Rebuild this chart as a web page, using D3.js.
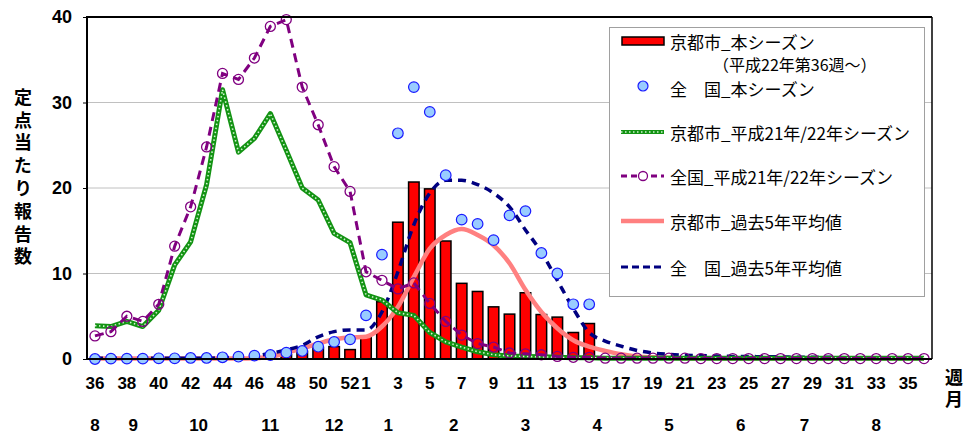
<!DOCTYPE html>
<html>
<head>
<meta charset="utf-8">
<script src="https://cdn.jsdelivr.net/npm/d3@7"></script>
<style>
  body { margin: 0; background: #fff; }
  #chart text { font-family: "Liberation Sans", Arial, sans-serif; }
</style>
</head>
<body>
<div id="chart"></div>
<script>
"use strict";

// == DATA ==
var weekCats = ["36","37","38","39","40","41","42","43","44","45","46","47","48","49","50","51","52",
  "1","2","3","4","5","6","7","8","9","10","11","12","13","14","15","16","17","18","19","20",
  "21","22","23","24","25","26","27","28","29","30","31","32","33","34","35",""];
var weekTickLabels = ["36","38","40","42","44","46","48","50","52","1","3","5","7","9","11","13",
  "15","17","19","21","23","25","27","29","31","33","35"];
var monthLabels = ["8","9","10","11","12","1","2","3","4","5","6","7","8"];
var monthPos = [0, 2.4, 6.5, 11, 15, 18.4, 22.5, 27, 31.5, 36, 40.5, 44.5, 49];
var yTicks = [0, 10, 20, 30, 40];

// 京都市_本シーズン (bars)
var kyotoNow = [0,0,0,0,0,0,0,0,0,0, 0.05,0.2,0.5,0.9,1.35,1.45,1.1,2.6,6.7,16.0,
  20.7,19.9,13.8,8.85,7.9,6.1,5.25,7.75,5.2,4.9, 3.1,4.15];
// 全国_本シーズン (circles)
var zenkokuNow = [0.0,0.04,0.04,0.04,0.08,0.08,0.12,0.12,0.2,0.27, 0.39,0.47,0.74,0.94,1.44,2.0,2.3,5.1,12.2,26.4,
  31.8,28.9,21.5,16.3,15.8,13.9,16.8,17.3,12.4,10.0, 6.4,6.4];
// 京都市_平成21年/22年シーズン
var kyotoPrev = [3.9,3.8,4.4,3.8,5.7,11.0,13.7,20.4,31.5,24.2,
  25.8,28.7,24.4,20.0,18.6,14.7,13.6,7.5,6.9,5.4,
  5.1,3.1,2.0,1.4,0.85,0.5,0.35,0.3,0.25,0.2,
  0.15,0.15,0.1,0.1,0.1,0.1,0.1,0.1,0.1,0.1,
  0.1,0.1,0.1,0.1,0.1,0.1,0.1,0.1,0.1,0.1, 0.1,0.1,0.1];
// 全国_平成21年/22年シーズン
var zenkokuPrev = [2.7,3.2,5.0,4.4,6.4,13.2,17.8,24.8,33.4,32.7,
  35.2,38.9,39.7,31.8,27.4,22.5,19.6,10.2,9.2,8.2,
  8.9,6.5,4.4,2.8,1.8,1.4,0.7,0.6,0.5,0.3,
  0.2,0.2,0.1,0.1,0.1,0.1,0.1,0.1,0.05,0.05,
  0.05,0.05,0.05,0.05,0.05,0.05,0.05,0.05,0.05,0.05, 0.05,0.05,0.05];
// 京都市_過去5年平均値
var kyotoAvg = [0.05,0.05,0.05,0.05,0.05,0.05,0.05,0.05,0.05,0.05,
  0.1,0.27,0.7,1.25,1.8,2.3,2.5,2.6,3.8,6.1,
  9.6,12.9,14.5,15.2,14.5,13.3,11.2,8.1,5.5,3.6,
  2.2,1.45,0.95,0.55,0.3,0.2,0.15,0.1,0.1,0.1,
  0.1,0.1,0.1,0.1,0.1,0.1,0.1,0.1,0.1,0.1, 0.1,0.1,0.1];
// 全国_過去5年平均値
var zenkokuAvg = [0.1,0.1,0.1,0.1,0.1,0.1,0.1,0.1,0.15,0.2,
  0.35,0.67,1.05,1.6,2.6,3.2,3.4,3.4,5.5,10.2,
  15.7,19.4,20.9,20.9,20.4,19.4,17.8,15.1,12.5,9.2,
  5.9,3.1,2.1,1.5,1.0,0.7,0.55,0.45,0.4,0.35,
  0.3,0.3,0.25,0.25,0.2,0.2,0.2,0.15,0.15,0.15, 0.1,0.1,0.1];

var yLabel = "定点当たり報告数";
var xUnit = "週月";

var legendItems = [
  { type: "bar",    text: "京都市_本シーズン" },
  { type: "dot",    text: "全　国_本シーズン" },
  { type: "green",  text: "京都市_平成21年/22年シーズン" },
  { type: "purple", text: "全国_平成21年/22年シーズン" },
  { type: "pink",   text: "京都市_過去5年平均値" },
  { type: "navy",   text: "全　国_過去5年平均値" }
];

// == BOILERPLATE ==
var W = 973, H = 435;
var pLeft = 87, pRight = 932, pTop = 17, pBottom = 359;

var svg = d3.select("#chart").append("svg")
  .attr("width", W).attr("height", H);

var x = d3.scaleBand().domain(weekCats).range([pLeft, pRight]).padding(0);
var bw = x.bandwidth();
var cx = function (i) { return x(weekCats[i]) + bw / 2; };
var xPos = d3.scaleLinear().domain([0, weekCats.length - 1]).range([cx(0), cx(weekCats.length - 1)]);
var y = d3.scaleLinear().domain([0, 40]).range([pBottom, pTop]);

// gridlines
svg.append("g").selectAll("line")
  .data([10, 20, 30]).enter().append("line")
  .attr("x1", pLeft).attr("x2", pRight)
  .attr("y1", function (d) { return y(d); })
  .attr("y2", function (d) { return y(d); })
  .attr("stroke", "#c0c0c0").attr("stroke-width", 1);

// bars
svg.append("g").selectAll("rect")
  .data(kyotoNow).enter().append("rect")
  .attr("x", function (d, i) { return cx(i) - bw * 0.33; })
  .attr("width", bw * 0.66)
  .attr("y", function (d) { return y(d); })
  .attr("height", function (d) { return y(0) - y(d); })
  .attr("fill", "#ff0000")
  .attr("stroke", "#000").attr("stroke-width", function (d) { return d > 0 ? 1.5 : 0; });

var straight = d3.line().x(function (d, i) { return cx(i); }).y(function (d) { return y(d); });
var smooth = d3.line().x(function (d, i) { return cx(i); }).y(function (d) { return y(d); })
  .curve(d3.curveMonotoneX);

// 京都市 過去5年
svg.append("path").attr("d", smooth(kyotoAvg))
  .attr("fill", "none").attr("stroke", "#ff8080").attr("stroke-width", 4.5);

// 全国 過去5年
svg.append("path").attr("d", smooth(zenkokuAvg))
  .attr("fill", "none").attr("stroke", "#000080").attr("stroke-width", 3.5)
  .attr("stroke-dasharray", "8,6");

// 京都市 H21/22
svg.append("path").attr("d", straight(kyotoPrev))
  .attr("fill", "none").attr("stroke", "#139313").attr("stroke-width", 5)
  .attr("stroke-linejoin", "round");
svg.append("path").attr("d", straight(kyotoPrev))
  .attr("fill", "none").attr("stroke", "#d2f5d2").attr("stroke-width", 1.6)
  .attr("stroke-dasharray", "1.5,2.5");

// 全国 H21/22
svg.append("path").attr("d", straight(zenkokuPrev))
  .attr("fill", "none").attr("stroke", "#800080").attr("stroke-width", 3)
  .attr("stroke-dasharray", "9,6");
svg.append("g").selectAll("circle")
  .data(zenkokuPrev).enter().append("circle")
  .attr("cx", function (d, i) { return cx(i); })
  .attr("cy", function (d) { return y(d); })
  .attr("r", 5)
  .attr("fill", "none").attr("stroke", "#800080").attr("stroke-width", 1.3);

// 全国 本シーズン
svg.append("g").selectAll("circle")
  .data(zenkokuNow).enter().append("circle")
  .attr("cx", function (d, i) { return cx(i); })
  .attr("cy", function (d) { return y(d); })
  .attr("r", 5.3)
  .attr("fill", "#99ccff").attr("stroke", "#1a1aff").attr("stroke-width", 1.2);

// frame
svg.append("line").attr("x1", pLeft).attr("x2", pRight).attr("y1", pTop).attr("y2", pTop)
  .attr("stroke", "#000").attr("stroke-width", 2.2);
svg.append("line").attr("x1", pRight).attr("x2", pRight).attr("y1", pTop).attr("y2", pBottom)
  .attr("stroke", "#000").attr("stroke-width", 1.5);
svg.append("line").attr("x1", pLeft).attr("x2", pRight).attr("y1", pBottom).attr("y2", pBottom)
  .attr("stroke", "#000").attr("stroke-width", 2);
svg.append("line").attr("x1", pLeft).attr("x2", pLeft).attr("y1", pTop - 1).attr("y2", pBottom + 1)
  .attr("stroke", "#000").attr("stroke-width", 2);

// y axis
var yAxis = d3.axisLeft(y).tickValues(yTicks).tickSize(4).tickPadding(11).tickSizeOuter(0);
var gy = svg.append("g").attr("transform", "translate(" + pLeft + ",0)").call(yAxis);
gy.select(".domain").remove();
gy.selectAll("line").attr("stroke", "#000").attr("stroke-width", 1);
gy.selectAll("text").attr("font-size", 18).attr("font-weight", "bold").attr("fill", "#000")
  .attr("font-family", "Liberation Sans, Arial, sans-serif");

// x axis (weeks)
var xAxis = d3.axisBottom(x).tickValues(weekTickLabels).tickSize(0).tickPadding(18);
var gx = svg.append("g").attr("transform", "translate(0," + pBottom + ")").call(xAxis);
gx.select(".domain").remove();
gx.selectAll("text").attr("font-size", 17).attr("font-weight", "bold").attr("fill", "#000")
  .attr("font-family", "Liberation Sans, Arial, sans-serif");

// months
svg.append("g").selectAll("text")
  .data(monthLabels).enter().append("text")
  .attr("x", function (d, i) { return xPos(monthPos[i]); })
  .attr("y", 431)
  .attr("text-anchor", "middle")
  .attr("font-size", 17).attr("font-weight", "bold")
  .text(function (d) { return d; });

// y label (vertical)
svg.append("text")
  .attr("x", 23).attr("y", 88)
  .style("writing-mode", "vertical-rl")
  .style("text-orientation", "upright")
  .style("letter-spacing", "4.8px")
  .style("font-family", "'Noto Sans CJK JP', sans-serif")
  .attr("font-size", 18).attr("font-weight", "bold")
  .text(yLabel);

// 週 / 月
svg.append("text")
  .attr("x", 954).attr("y", 368)
  .style("writing-mode", "vertical-rl")
  .style("text-orientation", "upright")
  .style("letter-spacing", "4px")
  .style("font-family", "'Noto Sans CJK JP', sans-serif")
  .attr("font-size", 18).attr("font-weight", "bold")
  .text(xUnit);

// == LEGEND ==
var lg = svg.append("g");
lg.append("rect").attr("x", 609.5).attr("y", 27.5).attr("width", 315).attr("height", 269)
  .attr("fill", "#fff").attr("stroke", "#a0a0a0").attr("stroke-width", 1);

var rowY = [41, 87, 132, 176, 221, 267];
var sx1 = 621, sx2 = 664, tx = 670;

legendItems.forEach(function (it, k) {
  var yy = rowY[k];
  if (it.type === "bar") {
    lg.append("rect").attr("x", 622).attr("y", yy - 4).attr("width", 42).attr("height", 8)
      .attr("fill", "#ff0000").attr("stroke", "#000").attr("stroke-width", 1.5);
  } else if (it.type === "dot") {
    lg.append("circle").attr("cx", 643).attr("cy", yy - 1).attr("r", 5)
      .attr("fill", "#99ccff").attr("stroke", "#1a1aff").attr("stroke-width", 1.2);
  } else if (it.type === "green") {
    lg.append("line").attr("x1", sx1).attr("x2", sx2).attr("y1", yy).attr("y2", yy)
      .attr("stroke", "#139313").attr("stroke-width", 4);
    lg.append("line").attr("x1", sx1).attr("x2", sx2).attr("y1", yy).attr("y2", yy)
      .attr("stroke", "#d2f5d2").attr("stroke-width", 1.3).attr("stroke-dasharray", "1.5,2.5");
  } else if (it.type === "purple") {
    lg.append("line").attr("x1", sx1).attr("x2", sx2).attr("y1", yy).attr("y2", yy)
      .attr("stroke", "#800080").attr("stroke-width", 3).attr("stroke-dasharray", "6,4");
    lg.append("circle").attr("cx", 643).attr("cy", yy).attr("r", 4.5)
      .attr("fill", "#fff").attr("stroke", "#800080").attr("stroke-width", 1.3);
  } else if (it.type === "pink") {
    lg.append("line").attr("x1", sx1).attr("x2", sx2).attr("y1", yy).attr("y2", yy)
      .attr("stroke", "#ff8080").attr("stroke-width", 4.5);
  } else if (it.type === "navy") {
    lg.append("line").attr("x1", sx1).attr("x2", sx2).attr("y1", yy).attr("y2", yy)
      .attr("stroke", "#000080").attr("stroke-width", 3).attr("stroke-dasharray", "7,4");
  }
  lg.append("text").attr("x", tx).attr("y", yy + (k === 1 ? 3 : 2)).attr("dy", "0.36em")
    .style("font-family", "'Noto Sans CJK JP', sans-serif")
    .attr("font-size", 17).attr("fill", "#000")
    .text(it.text);
});
lg.append("text").attr("x", 713).attr("y", 65).attr("dy", "0.36em")
  .style("font-family", "'Noto Sans CJK JP', sans-serif")
  .attr("font-size", 16).attr("fill", "#000")
  .text("（平成22年第36週～）");
</script>
</body>
</html>
